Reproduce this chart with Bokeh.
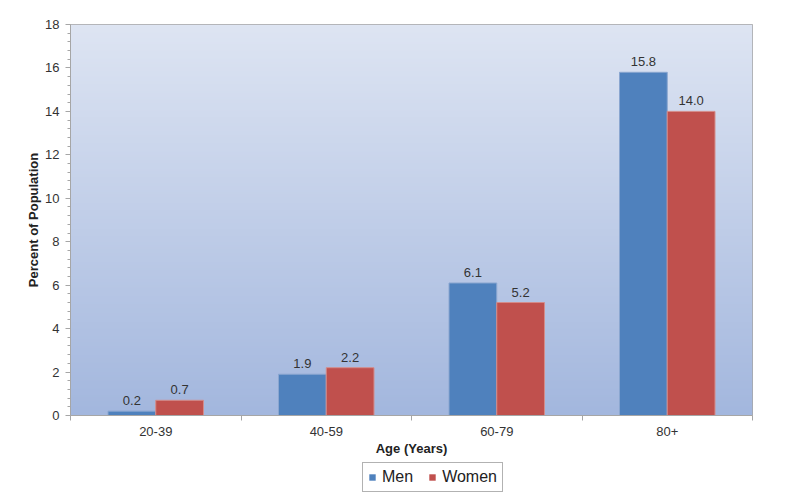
import numpy as np
from bokeh.plotting import figure
from bokeh.layouts import column
from bokeh.models import ColumnDataSource, FixedTicker, SingleIntervalTicker, Range1d, Legend, LegendItem
from bokeh.core.properties import value
from bokeh.embed import file_html
from bokeh.resources import INLINE

categories = ["20-39", "40-59", "60-79", "80+"]
men = [0.2, 1.9, 6.1, 15.8]
women = [0.7, 2.2, 5.2, 14.0]
series = ["Men", "Women"]

FONT = "Liberation Sans"
BLUE = "#4F81BD"
RED = "#C0504D"
W = 0.28

idx = np.arange(len(categories))
centers = idx + 0.5
src = ColumnDataSource(dict(
    xm=centers - W / 2, xw=centers + W / 2,
    men=men, women=women,
    lm=[f"{v:.1f}" for v in men], lw=[f"{v:.1f}" for v in women],
))

p = figure(width=800, height=462, output_backend="svg", toolbar_location=None,
           x_range=Range1d(0, len(categories)), y_range=Range1d(0, 18),
           min_border_left=70, min_border_right=48, min_border_top=24, min_border_bottom=47)
p.background_fill_color = "white"
p.border_fill_color = "white"
p.outline_line_color = "#A6A6A6"
p.grid.visible = False

# gradient background
n = 256
t = np.linspace(0, 1, n)[:, None]  # 0 bottom -> 1 top
bottom = np.array([163, 183, 222])
top = np.array([222, 229, 243])
cols = bottom + (top - bottom) * t
img = np.zeros((n, 1), dtype=np.uint32)
view = img.view(dtype=np.uint8).reshape((n, 1, 4))
view[:, :, 0] = cols[:, 0:1].astype(np.uint8)
view[:, :, 1] = cols[:, 1:2].astype(np.uint8)
view[:, :, 2] = cols[:, 2:3].astype(np.uint8)
view[:, :, 3] = 255
p.image_rgba(image=[img], x=0, y=0, dw=len(categories), dh=18)

p.vbar(x="xm", top="men", width=W, bottom=0, source=src,
       fill_color=BLUE, line_color="#8AA6D0", line_width=1)
p.vbar(x="xw", top="women", width=W, bottom=0, source=src,
       fill_color=RED, line_color="#D48C8A", line_width=1)

for xcol, ycol, lcol in (("xm", "men", "lm"), ("xw", "women", "lw")):
    p.text(x=xcol, y=ycol, text=lcol, source=src, text_align="center",
           text_baseline="bottom", y_offset=-6, text_font=value(FONT),
           text_font_size="13px", text_color="#333333")

# axes
xa = p.xaxis[0]
xa.ticker = FixedTicker(ticks=list(centers), minor_ticks=list(range(len(categories) + 1)))
xa.major_label_overrides = {float(c): lab for c, lab in zip(centers, categories)}
xa.major_tick_line_color = None
xa.minor_tick_in = 0
xa.minor_tick_out = 5
xa.minor_tick_line_color = "#A6A6A6"
xa.axis_line_color = "#A6A6A6"
xa.major_label_text_font = FONT
xa.major_label_text_font_size = "13px"
xa.major_label_text_color = "#333333"
xa.major_label_standoff = 5
xa.axis_label = "Age (Years)"
xa.axis_label_text_font = FONT
xa.axis_label_text_font_style = "bold"
xa.axis_label_text_font_size = "13px"
xa.axis_label_text_color = "#222222"
xa.axis_label_standoff = 2

ya = p.yaxis[0]
ya.ticker = SingleIntervalTicker(interval=2, num_minor_ticks=5)
ya.major_tick_in = 0
ya.major_tick_out = 5
ya.minor_tick_in = 0
ya.minor_tick_out = 3
ya.major_tick_line_color = "#A6A6A6"
ya.minor_tick_line_color = "#A6A6A6"
ya.axis_line_color = "#A6A6A6"
ya.major_label_text_font = FONT
ya.major_label_text_font_size = "13px"
ya.major_label_text_color = "#333333"
ya.major_label_standoff = 6
ya.axis_label = "Percent of Population"
ya.axis_label_text_font = FONT
ya.axis_label_text_font_style = "bold"
ya.axis_label_text_font_size = "13px"
ya.axis_label_text_color = "#222222"
ya.axis_label_standoff = 1

# legend strip below the chart
lg = figure(width=800, height=35, output_backend="svg", toolbar_location=None,
            x_range=Range1d(0, 1), y_range=Range1d(0, 1),
            min_border=0, min_border_left=0, min_border_right=0,
            min_border_top=0, min_border_bottom=0)
lg.axis.visible = False
lg.grid.visible = False
lg.outline_line_color = None
lg.background_fill_color = "white"
lg.border_fill_color = "white"
r1 = lg.vbar(x=[0.5], top=[0], bottom=[0], width=0.0, fill_color=BLUE, line_color=None)
r2 = lg.vbar(x=[0.5], top=[0], bottom=[0], width=0.0, fill_color=RED, line_color=None)

legend = Legend(items=[LegendItem(label=series[0], renderers=[r1]),
                       LegendItem(label=series[1], renderers=[r2])],
                orientation="horizontal", location=(292, 5))
legend.label_text_font = FONT
legend.label_text_font_size = "16px"
legend.label_text_color = "#222222"
legend.glyph_width = 8
legend.glyph_height = 8
legend.label_standoff = 6
legend.spacing = 15
legend.padding = 5
legend.margin = 0
legend.border_line_color = "#666666"
legend.border_line_width = 1
legend.background_fill_alpha = 1
lg.add_layout(legend, "center")

layout = column(p, lg, spacing=0)
open("out.html", "w").write(file_html(layout, INLINE))
